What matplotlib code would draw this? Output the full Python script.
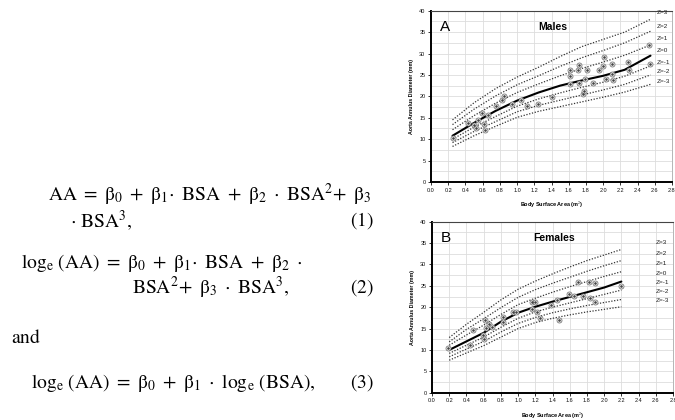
import matplotlib
matplotlib.use("Agg")
import matplotlib.pyplot as plt
import numpy as np

plt.rcParams['mathtext.fontset'] = 'stix'
plt.rcParams['font.family'] = ['Liberation Sans', 'DejaVu Sans']

# ---------------- data ----------------
z_labels = ['Z=3', 'Z=2', 'Z=1', 'Z=0', 'Z=-1', 'Z=-2', 'Z=-3']

male_x = [0.25, 0.5, 0.75, 1.0, 1.25, 1.5, 1.75, 2.0, 2.25, 2.55]
male_z3 = [14.5, 18.5, 21.8, 24.5, 26.8, 29.3, 31.6, 33.3, 35.0, 38.0]
male_z2 = [13.4, 17.0, 20.1, 22.7, 24.8, 27.0, 29.0, 30.7, 32.5, 35.2]
male_z1 = [12.2, 15.5, 18.4, 20.9, 22.9, 24.8, 26.5, 28.0, 29.6, 32.0]
male_z0 = [10.8, 13.8, 16.6, 19.0, 20.9, 22.5, 23.7, 24.8, 26.2, 29.5]
male_zm1 = [10.0, 12.8, 15.3, 17.7, 19.4, 20.8, 22.1, 23.3, 24.7, 27.1]
male_zm2 = [9.2, 11.8, 14.1, 16.4, 17.9, 19.1, 20.3, 21.5, 22.8, 25.0]
male_zm3 = [8.3, 10.8, 13.0, 15.1, 16.5, 17.6, 18.7, 19.8, 21.0, 22.8]
male_label_y = [39.5, 36.4, 33.6, 30.8, 28.0, 25.9, 23.5]

male_pts_x = [0.26, 0.43, 0.50, 0.52, 0.55, 0.59, 0.61, 0.63, 0.66, 0.75, 0.83, 0.85,
              0.94, 1.05, 1.11, 1.24, 1.41, 1.61, 1.62, 1.62, 1.71, 1.72, 1.72, 1.77,
              1.78, 1.79, 1.81, 1.88, 1.95, 2.00, 2.01, 2.03, 2.10, 2.10, 2.12, 2.29,
              2.30, 2.53, 2.54]
male_pts_y = [10.2, 13.8, 13.3, 12.5, 14.5, 16.0, 13.5, 12.1, 15.6, 17.7, 19.2, 20.0,
              18.2, 19.1, 17.7, 18.2, 19.8, 26.2, 24.8, 22.9, 26.2, 27.3, 23.2, 20.5,
              21.3, 24.0, 26.2, 23.2, 26.2, 27.1, 29.3, 24.0, 27.6, 25.2, 23.8, 28.1,
              26.2, 32.0, 27.5]

fem_x = [0.2, 0.4, 0.6, 0.8, 1.0, 1.2, 1.4, 1.6, 1.8, 2.0, 2.2]
fem_z3 = [12.9, 16.0, 18.8, 21.7, 24.2, 26.1, 27.8, 29.4, 30.9, 32.2, 33.5]
fem_z2 = [11.9, 14.8, 17.3, 19.9, 22.3, 24.1, 25.6, 27.0, 28.4, 29.7, 30.9]
fem_z1 = [11.1, 13.5, 15.8, 18.3, 20.6, 22.1, 23.5, 24.8, 26.0, 27.2, 28.3]
fem_z0 = [10.0, 12.0, 14.0, 16.6, 18.7, 20.1, 21.3, 22.4, 23.5, 24.6, 26.0]
fem_zm1 = [9.2, 11.1, 13.0, 15.3, 17.4, 18.9, 20.0, 21.0, 22.0, 23.0, 24.0]
fem_zm2 = [8.4, 10.2, 12.0, 14.2, 16.2, 17.6, 18.7, 19.6, 20.4, 21.1, 21.8]
fem_zm3 = [7.6, 9.3, 11.0, 13.0, 15.0, 16.4, 17.4, 18.2, 18.9, 19.5, 20.1]
fem_label_y = [35.2, 32.6, 30.3, 27.9, 25.8, 23.7, 21.6]

fem_pts_x = [0.19, 0.44, 0.48, 0.59, 0.60, 0.61, 0.63, 0.66, 0.70, 0.82, 0.83, 0.94,
             0.98, 1.16, 1.20, 1.16, 1.22, 1.25, 1.38, 1.45, 1.48, 1.59, 1.65, 1.70,
             1.75, 1.82, 1.83, 1.89, 1.89, 2.20]
fem_pts_y = [10.4, 11.2, 14.7, 13.5, 12.5, 17.0, 15.2, 16.0, 15.3, 17.8, 16.6, 18.9,
             18.8, 21.1, 21.1, 19.5, 18.9, 17.4, 20.5, 21.7, 17.0, 23.0, 22.7, 26.0,
             22.6, 26.0, 22.1, 25.6, 21.1, 25.0]

x_ticks = [0.0, 0.2, 0.4, 0.6, 0.8, 1.0, 1.2, 1.4, 1.6, 1.8, 2.0, 2.2, 2.4, 2.6, 2.8]
y_ticks = [0, 5, 10, 15, 20, 25, 30, 35, 40]

# ---------------- figure ----------------
fig = plt.figure(figsize=(6.75, 4.2), dpi=100)
W, H = 675.0, 420.0


def make_axes(l, r, t, b):
    return fig.add_axes([l / W, 1 - b / H, (r - l) / W, (b - t) / H])


def draw_panel(ax, xs, curves, px, py, label_y, letter, title, label_x):
    for i, c in enumerate(curves):
        if i == 3:
            ax.plot(xs, c, color='black', lw=1.5, solid_capstyle='round', zorder=3)
        else:
            ax.plot(xs, c, color='#333333', lw=0.9, ls=(0, (1.0, 1.3)), zorder=3)
    ax.plot(px, py, ls='none', marker='o', ms=3.6, mfc='white', mec='#777777',
            mew=0.6, zorder=4)
    ax.plot(px, py, ls='none', marker='o', ms=0.9, mfc='#444444', mec='#444444',
            zorder=5)
    for lab, yy in zip(z_labels, label_y):
        ax.text(label_x, yy, lab, fontsize=4.6, ha='left', va='center', color='#222222')
    ax.text(0.10, 36.2, letter, fontsize=11, ha='left', va='center')
    ax.text(1.42, 36.2, title, fontsize=7.5, ha='center', va='center',
            fontweight='semibold')
    ax.set_xlim(0, 2.8)
    ax.set_ylim(0, 40)
    ax.set_xticks(x_ticks)
    ax.set_xticklabels([f'{v:.1f}' for v in x_ticks])
    ax.set_yticks(y_ticks)
    ax.set_yticks(np.arange(2.5, 40, 5), minor=True)
    ax.grid(True, which='major', color='#dddddd', lw=0.6)
    ax.grid(True, which='minor', axis='y', color='#dddddd', lw=0.6)
    ax.tick_params(which='minor', length=0)
    ax.tick_params(which='major', labelsize=4.0, length=2, width=0.6, pad=2,
                   colors='#111111')
    ax.set_axisbelow(True)
    for s in ['left', 'bottom']:
        ax.spines[s].set_linewidth(1.4)
    ax.spines['top'].set_linewidth(0.8)
    ax.spines['top'].set_color('#444444')
    ax.spines['right'].set_linewidth(0.5)
    ax.spines['right'].set_color('#999999')
    ax.set_xlabel('Body Surface Area (m$^2$)', fontsize=4.0, fontweight='bold',
                  labelpad=5)
    ax.set_ylabel('Aorta Annulus Diameter (mm)', fontsize=3.8, fontweight='bold',
                  labelpad=4)


ax1 = make_axes(431, 672, 10.7, 182)
draw_panel(ax1, male_x,
           [male_z3, male_z2, male_z1, male_z0, male_zm1, male_zm2, male_zm3],
           male_pts_x, male_pts_y, male_label_y, 'A', 'Males', 2.62)

ax2 = make_axes(432, 673, 221.7, 392.7)
draw_panel(ax2, fem_x,
           [fem_z3, fem_z2, fem_z1, fem_z0, fem_zm1, fem_zm2, fem_zm3],
           fem_pts_x, fem_pts_y, fem_label_y, 'B', 'Females', 2.6)

# ---------------- equations ----------------
fs = 14


def ftext(x, y, s, ha='left'):
    fig.text(x / W, 1 - y / H, s, fontsize=fs, ha=ha, va='center',
             family=['STIXGeneral', 'DejaVu Serif'])


B = r'\mathrm{β}'
ftext(48, 195, rf'$\mathrm{{AA}}\ =\ {B}_0\ +\ {B}_1\!\cdot\ \mathrm{{BSA}}\ +\ {B}_2\ \cdot\ \mathrm{{BSA}}^2\!+\ {B}_3$')
ftext(70, 221, r'$\cdot\ \mathrm{BSA}^3,$')
ftext(374, 221, r'$\mathrm{(1)}$', ha='right')
ftext(21, 263, rf'$\mathrm{{log_e\ (AA)}}\ =\ {B}_0\ +\ {B}_1\!\cdot\ \mathrm{{BSA}}\ +\ {B}_2\ \cdot$')
ftext(132, 288, rf'$\mathrm{{BSA}}^2\!+\ {B}_3\ \cdot\ \mathrm{{BSA}}^3,$')
ftext(374, 288, r'$\mathrm{(2)}$', ha='right')
ftext(11, 338, r'$\mathrm{and}$')
ftext(31, 383, rf'$\mathrm{{log_e\ (AA)}}\ =\ {B}_0\ +\ {B}_1\ \cdot\ \mathrm{{log_e\ (BSA)}},$')
ftext(374, 383, r'$\mathrm{(3)}$', ha='right')

fig.savefig('out.png', dpi=100)
